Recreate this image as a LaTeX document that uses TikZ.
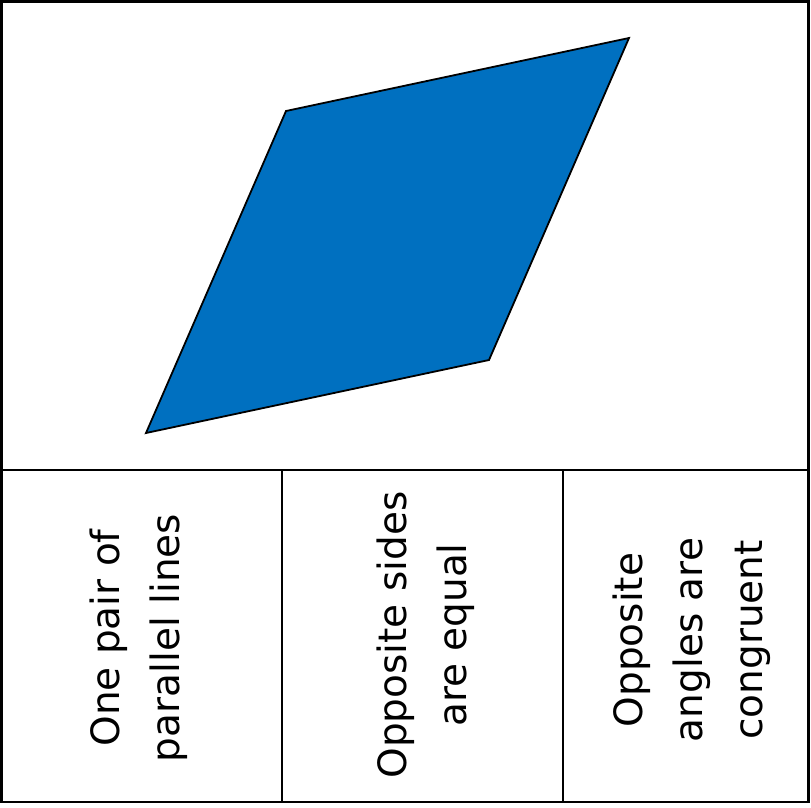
\documentclass[tikz,border=0pt]{standalone}
\usepackage{fontspec}
\setmainfont{DejaVu Sans}
\definecolor{pblue}{HTML}{0070C0}
\begin{document}
\begin{tikzpicture}[x=1pt,y=-1pt,
  frame/.style={line width=2.5pt},
  lbl/.style={rotate=90,align=center,font=\fontsize{39}{60}\selectfont,inner sep=0pt}]
\useasboundingbox (0,0) rectangle (811,807);
\fill[white] (0,0) rectangle (811,807);
\draw[frame] (1.5,1.5) rectangle (808.5,802);
\draw[frame] (1.5,470) -- (808.5,470);
\draw[frame] (282,470) -- (282,802);
\draw[frame] (563,470) -- (563,802);
\draw[fill=pblue,line width=1.8pt,line join=miter] (286,111) -- (629,38) -- (489,360) -- (146,433) -- cycle;
\node[lbl] (t1) at (139,638) {One pair of\\parallel lines};
\node[lbl] (t2) at (426,635) {Opposite sides\\are equal};
\node[lbl] (t3) at (692,640) {Opposite\\angles are\\congruent};
\end{tikzpicture}
\end{document}
